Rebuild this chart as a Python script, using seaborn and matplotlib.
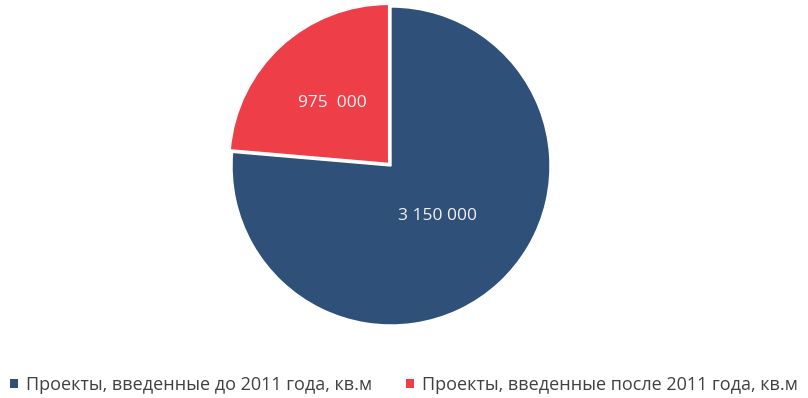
import numpy as np
import matplotlib
matplotlib.use("Agg")
import matplotlib.pyplot as plt
import seaborn as sns
from matplotlib.patches import Patch

sns.set_theme(style="white")
plt.rcParams['font.family'] = ['Open Sans', 'DejaVu Sans']

categories = ["Проекты, введенные до 2011 года, кв.м",
              "Проекты, введенные после 2011 года, кв.м"]
values = [3150000, 975000]
value_labels = ["3 150 000", "975  000"]
colors = ["#2F5078", "#EE3F48"]

W, H = 808, 398
fig = plt.figure(figsize=(W / 100, H / 100), dpi=100)
R = 159
cx, cy = 391, H - 166
half = 1.1 * R
ax = fig.add_axes([(cx - half) / W, (cy - half) / H, 2 * half / W, 2 * half / H])

wedges, _ = ax.pie(values, colors=colors, startangle=90, counterclock=False,
                   explode=[0, 0.022], radius=1.0,
                   wedgeprops=dict(edgecolor="white", linewidth=1.0))
ax.set_xlim(-1.1, 1.1)
ax.set_ylim(-1.1, 1.1)
ax.set_aspect("equal")
ax.axis("off")

# value labels placed along each wedge's mid-angle
label_r = [0.43, 0.52]
for w, txt, r in zip(wedges, value_labels, label_r):
    mid = np.deg2rad((w.theta1 + w.theta2) / 2)
    ox, oy = w.center
    ax.text(ox + r * np.cos(mid), oy + r * np.sin(mid), txt,
            ha="center", va="center", color="#F2F2F2", fontsize=12.5)

handles = [Patch(facecolor=c, edgecolor="none") for c in colors]
fig.legend(handles, categories, loc="center", bbox_to_anchor=(0.5, 1 - 385 / H),
           ncol=2, frameon=False, fontsize=13, handlelength=0.42, handleheight=0.42,
           handletextpad=0.45, columnspacing=1.9, labelcolor="#404040")

fig.savefig("out.png", dpi=100, facecolor="white")
